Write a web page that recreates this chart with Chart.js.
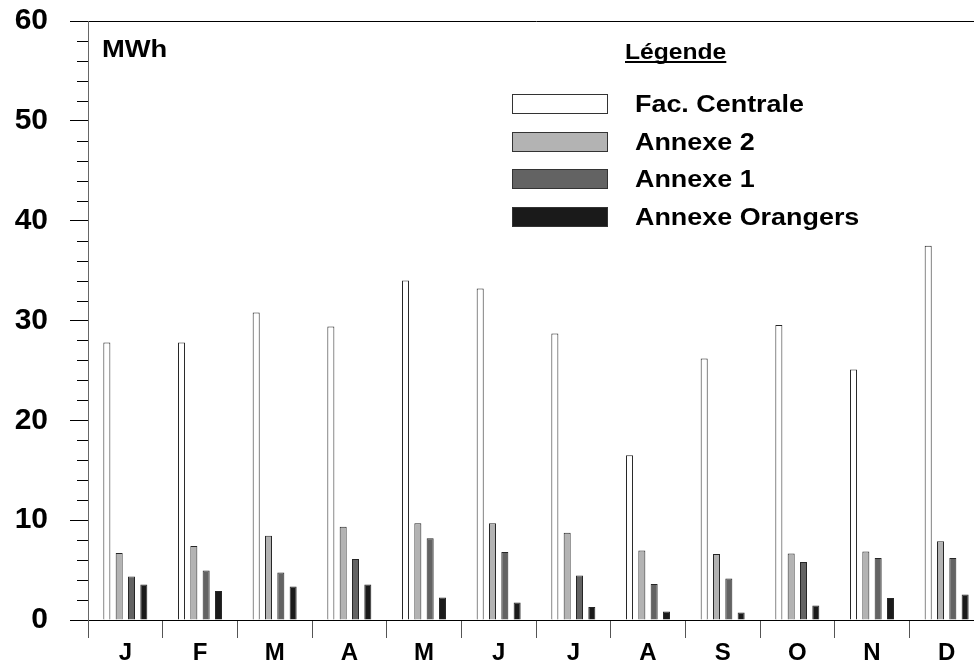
<!DOCTYPE html>
<html>
<head>
<meta charset="utf-8">
<script src="https://cdn.jsdelivr.net/npm/chart.js@4/dist/chart.umd.min.js"></script>
<style>
  html, body { margin: 0; padding: 0; background: #fff; overflow: hidden; }
  #wrap { width: 984px; height: 666px; }
</style>
</head>
<body>
<div id="wrap"><canvas id="chart" width="984" height="666"></canvas></div>
<script>
// monthly consumption, MWh
const months = ["J", "F", "M", "A", "M", "J", "J", "A", "S", "O", "N", "D"];
const facCentrale = [27.8, 27.8, 30.8, 29.4, 34.0, 33.2, 28.7, 16.5, 26.2, 29.55, 25.1, 37.5];
const annexe2 = [6.7, 7.4, 8.45, 9.35, 9.7, 9.7, 8.75, 6.95, 6.6, 6.65, 6.85, 7.9];
const annexe1 = [4.35, 4.95, 4.75, 6.1, 8.2, 6.8, 4.45, 3.6, 4.15, 5.8, 6.2, 6.2];
const annexeOrangers = [3.55, 2.9, 3.35, 3.55, 2.25, 1.75, 1.3, 0.85, 0.75, 1.45, 2.2, 2.55];
const seriesNames = ["Fac. Centrale", "Annexe 2", "Annexe 1", "Annexe Orangers"];

const yMin = 0, yMax = 60, yMinorStep = 2, yMajorStep = 10;

const FONT = "'Liberation Sans', Arial, sans-serif";

function mkDataset(label, data, fill) {
    return {
        label,
        data,
        backgroundColor: fill,
        borderColor: "#262626",
        borderWidth: 1,
        borderSkipped: "bottom",
        categoryPercentage: 0.66,
        barPercentage: 0.57
    };
}

// stretched bold text, the original uses a wide sans
function wideText(ctx, text, x, y, size, sx) {
    ctx.save();
    ctx.font = "bold " + size + "px " + FONT;
    ctx.fillStyle = "#000";
    ctx.textBaseline = "alphabetic";
    ctx.translate(x, y);
    ctx.scale(sx, 1);
    ctx.fillText(text, 0, 0);
    const w = ctx.measureText(text).width * sx;
    ctx.restore();
    return w;
}

const decorPlugin = {
    id: "decor",
    afterDraw(chart) {
        const ctx = chart.ctx;
        const y = chart.scales.y;
        const left = chart.chartArea.left;

        // minor ticks on the value axis
        ctx.save();
        ctx.strokeStyle = "#000";
        ctx.lineWidth = 1;
        for (let v = yMin; v <= yMax; v += yMinorStep) {
            if (v % yMajorStep === 0) continue;
            const py = Math.round(y.getPixelForValue(v)) + 0.5;
            ctx.beginPath();
            ctx.moveTo(left - 11, py);
            ctx.lineTo(left, py);
            ctx.stroke();
        }
        ctx.restore();

        // unit
        wideText(ctx, "MWh", 102, 57, 24, 1.14);

        // legend title, underlined
        const tw = wideText(ctx, "Légende", 625, 59, 22, 1.12);
        ctx.save();
        ctx.fillStyle = "#000";
        ctx.fillRect(625, 61, tw, 2);
        ctx.restore();

        // legend entries
        chart.data.datasets.forEach((ds, i) => {
            const by = 94 + i * 37.5;
            ctx.save();
            ctx.fillStyle = ds.backgroundColor;
            ctx.strokeStyle = "#333";
            ctx.lineWidth = 1;
            ctx.fillRect(512.5, Math.round(by) + 0.5, 95, 19);
            ctx.strokeRect(512.5, Math.round(by) + 0.5, 95, 19);
            ctx.restore();
            wideText(ctx, ds.label, 635, by + 18, 23, 1.17);
        });
    }
};

new Chart(document.getElementById("chart"), {
    type: "bar",
    data: {
        labels: months,
        datasets: [
            mkDataset(seriesNames[0], facCentrale, "#ffffff"),
            mkDataset(seriesNames[1], annexe2, "#b3b3b3"),
            mkDataset(seriesNames[2], annexe1, "#636363"),
            mkDataset(seriesNames[3], annexeOrangers, "#1a1a1a")
        ]
    },
    options: {
        responsive: false,
        animation: false,
        devicePixelRatio: 1,
        layout: { padding: { top: 21, left: 0, right: 0, bottom: 0 } },
        plugins: {
            legend: { display: false },
            tooltip: { enabled: false }
        },
        scales: {
            x: {
                grid: {
                    offset: true,
                    drawOnChartArea: false,
                    tickLength: 18,
                    tickColor: "#555",
                    lineWidth: 1
                },
                border: { color: "#000", width: 1 },
                ticks: {
                    color: "#000",
                    padding: 1,
                    font: { family: FONT, size: 24, weight: "bold" }
                },
                afterFit(scale) { scale.height = 46; }
            },
            y: {
                min: yMin,
                max: yMax,
                grid: {
                    tickLength: 18,
                    color: (c) => (c.tick && (c.tick.value === yMax || c.tick.value === yMin)) ? "#000" : "rgba(0,0,0,0)",
                    tickColor: (c) => (c.tick && c.tick.value % yMajorStep === 0) ? "#000" : "rgba(0,0,0,0)"
                },
                border: { color: "#666", width: 1 },
                ticks: {
                    stepSize: yMinorStep,
                    maxTicksLimit: 100,
                    autoSkip: false,
                    padding: 22,
                    color: "#000",
                    font: { family: FONT, size: 30, weight: "bold" },
                    callback: (v) => (v % yMajorStep === 0 ? v : "")
                },
                afterFit(scale) {
                    scale.width = 88;
                    // labels may hang over the top, the padding is set by layout
                    scale.paddingTop = 0;
                    scale.paddingBottom = 0;
                }
            }
        }
    },
    plugins: [decorPlugin]
});
</script>
</body>
</html>
